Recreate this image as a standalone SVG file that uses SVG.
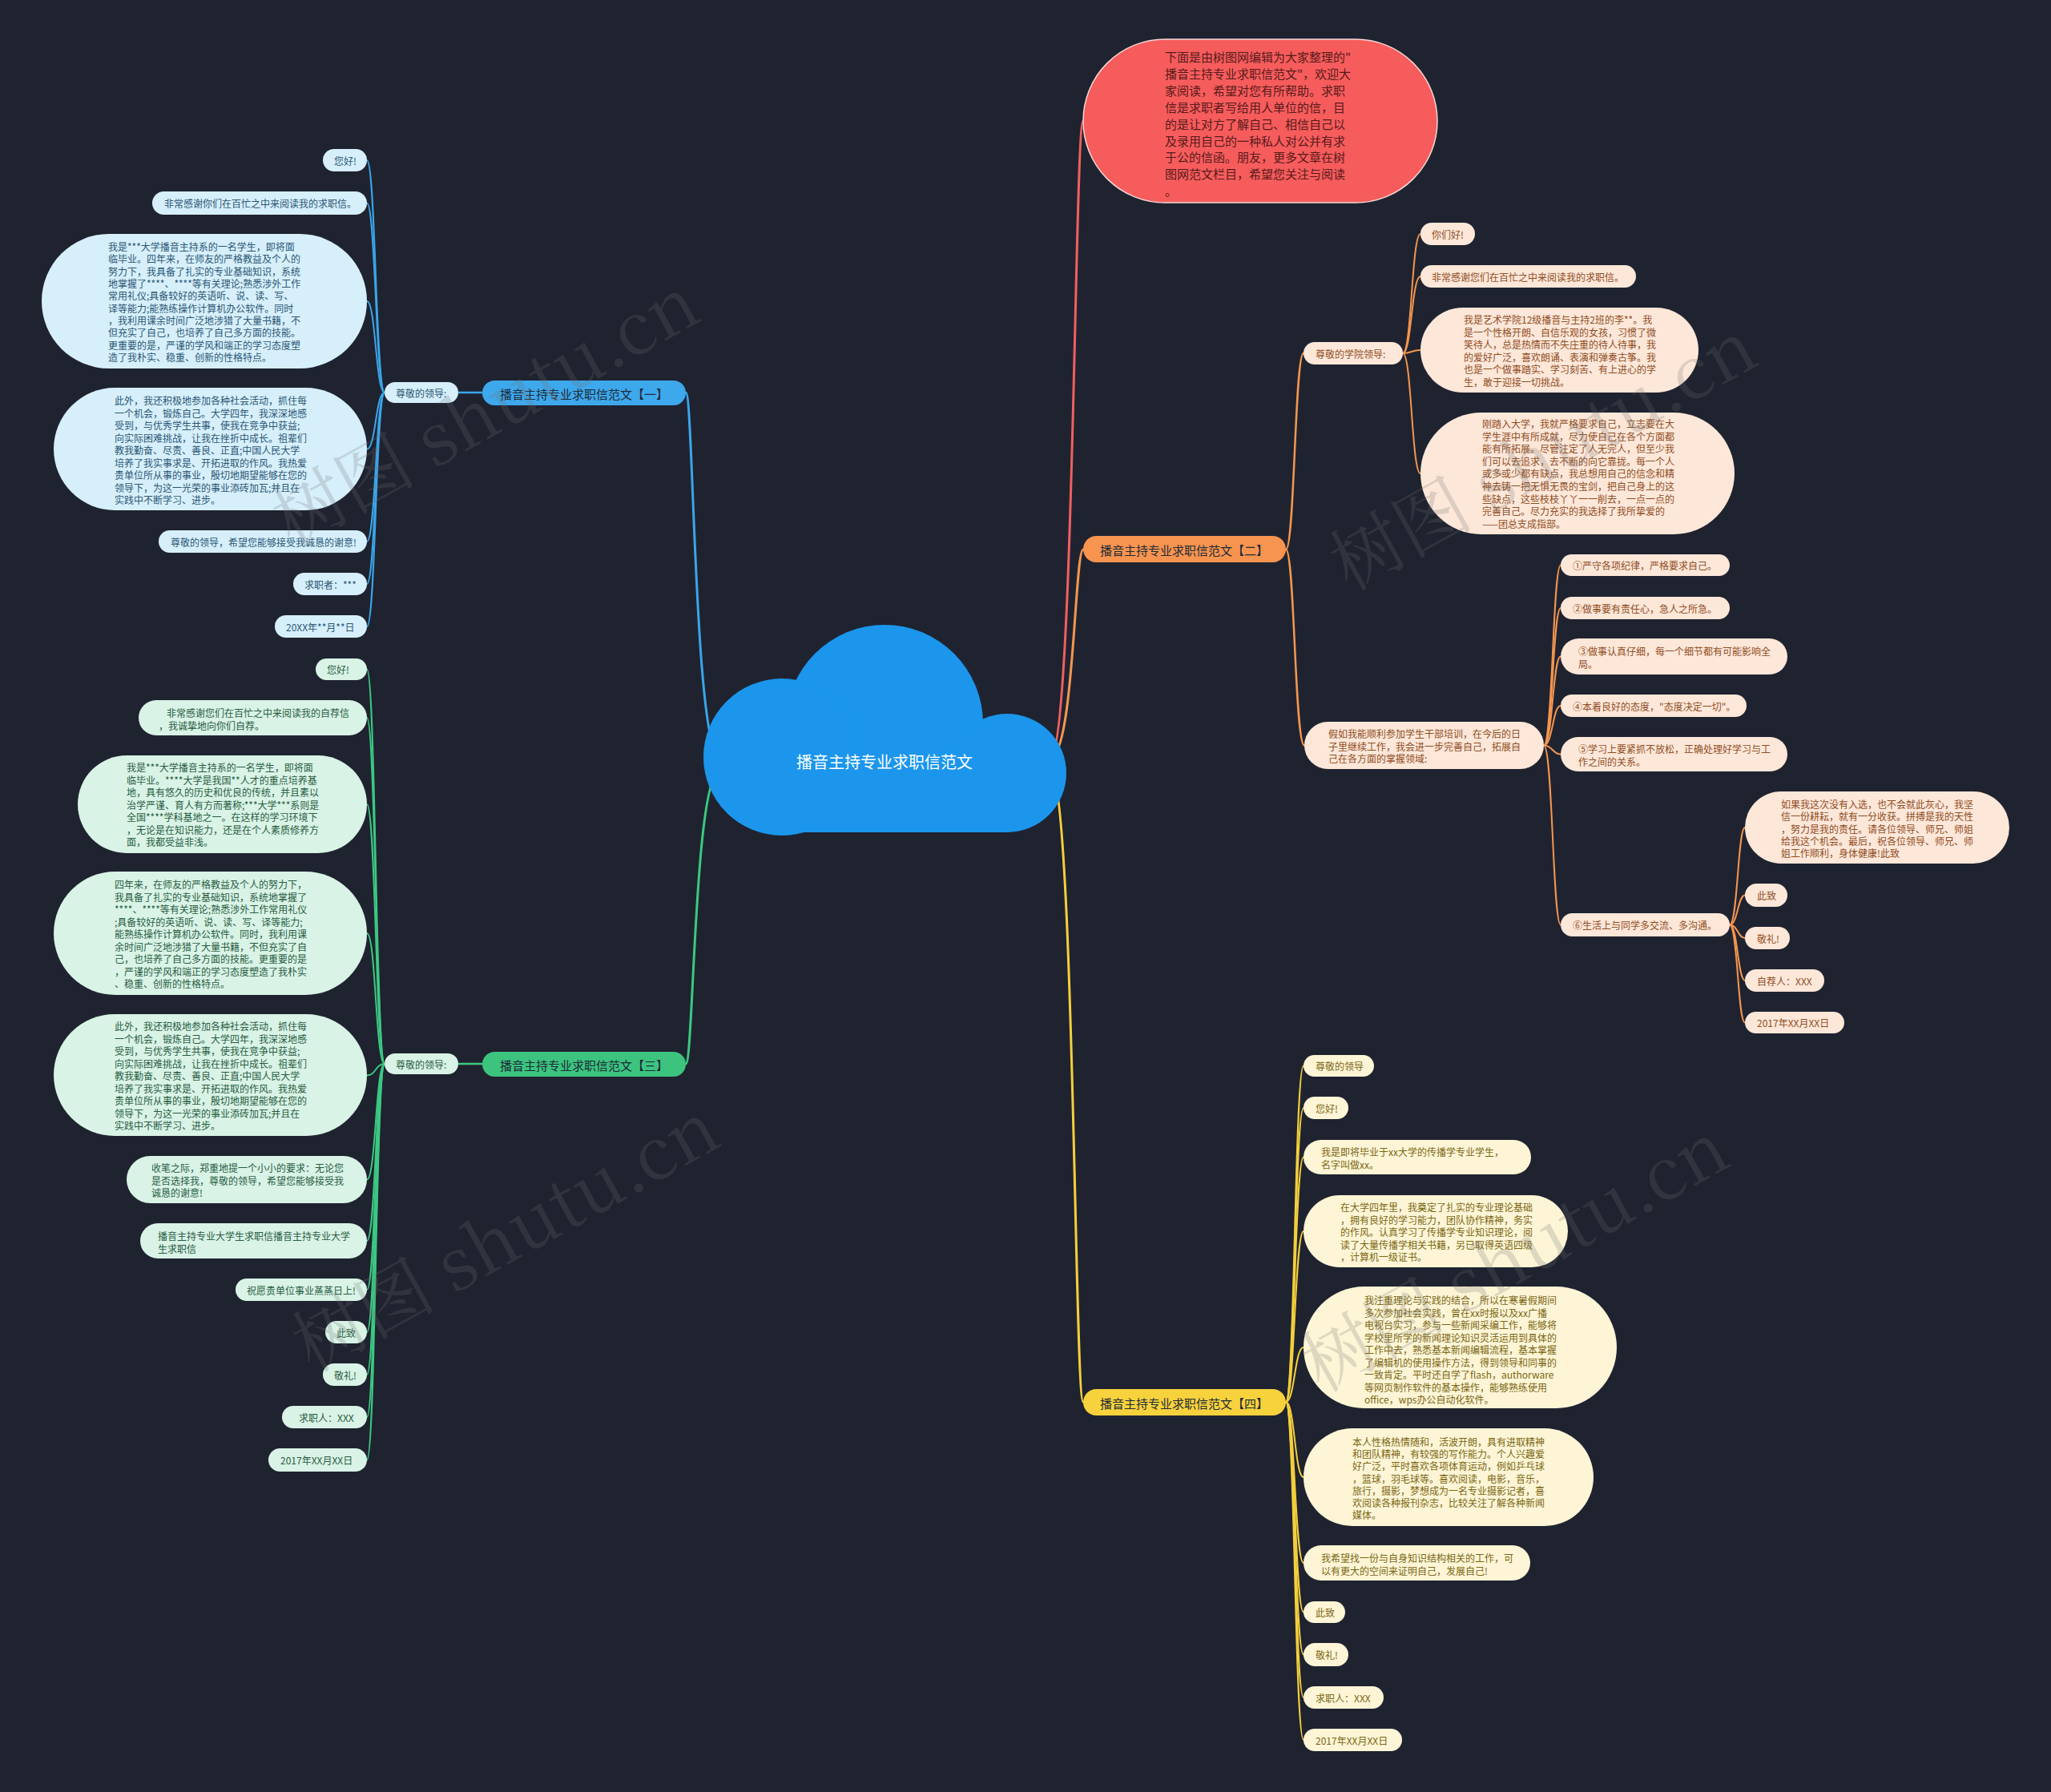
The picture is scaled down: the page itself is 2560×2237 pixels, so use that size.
<svg xmlns="http://www.w3.org/2000/svg" width="2560" height="2237" viewBox="0 0 2560 2237">
<style>
text{font-family:"Noto Sans CJK SC","Liberation Sans",sans-serif;font-size:12px;dominant-baseline:central}
.c{fill:none;stroke-linecap:round}
.cb{stroke:#3aa6ea}.cg{stroke:#3cc882}.co{stroke:#f5964f}.cy{stroke:#f4cf3c}.cr{stroke:#f0605e}
.lb rect{fill:#d6effb}.lb text{fill:#2b5673}
.lg rect{fill:#d9f3e6}.lg text{fill:#285c42}
.lo rect{fill:#fde7d9}.lo text{fill:#8f4d1e}
.ly rect{fill:#fdf5d6}.ly text{fill:#7a6613}
.br text{font-size:15px;fill:#1d2a38;text-anchor:middle}
.wm{font-size:90px;fill:#707070;opacity:0.22;font-family:"Noto Serif CJK SC","Noto Sans CJK SC",serif}
</style>
<rect x="0" y="0" width="2560" height="2237" fill="#1f2330"/>

<g id="connectors">
  <path class="c cb" stroke-width="3" d="M900 947 C866 947 866 490 856 490"/>
  <path class="c cg" stroke-width="3" d="M900 960 C866 960 866 1328 856 1328"/>
  <path class="c cr" stroke-width="3" d="M1310 947 C1341 947 1341 151 1352 151"/>
  <path class="c co" stroke-width="3" d="M1310 947 C1341 947 1341 686 1352 686"/>
  <path class="c cy" stroke-width="3" d="M1310 960 C1341 960 1341 1750 1352 1750"/>

  <path class="c cb" stroke-width="2.5" d="M602 490 L572 490"/>
  <g class="c cb" stroke-width="2">
    <path d="M480 490 C469 490 469 200 458 200"/>
    <path d="M480 490 C469 490 469 253.5 458 253.5"/>
    <path d="M480 490 C469 490 469 376 458 376"/>
    <path d="M480 490 C469 490 469 560.5 458 560.5"/>
    <path d="M480 490 C469 490 469 676 458 676"/>
    <path d="M480 490 C469 490 469 729 458 729"/>
    <path d="M480 490 C469 490 469 782 458 782"/>
  </g>

  <path class="c cg" stroke-width="2.5" d="M602 1328 L572 1328"/>
  <g class="c cg" stroke-width="2">
    <path d="M480 1328 C469 1328 469 835.5 458 835.5"/>
    <path d="M480 1328 C469 1328 469 896 458 896"/>
    <path d="M480 1328 C469 1328 469 1004 458 1004"/>
    <path d="M480 1328 C469 1328 469 1165 458 1165"/>
    <path d="M480 1328 C469 1328 469 1342.5 458 1342.5"/>
    <path d="M480 1328 C469 1328 469 1472.5 458 1472.5"/>
    <path d="M480 1328 C469 1328 469 1549 458 1549"/>
    <path d="M480 1328 C469 1328 469 1610 458 1610"/>
    <path d="M480 1328 C469 1328 469 1663 458 1663"/>
    <path d="M480 1328 C469 1328 469 1716 458 1716"/>
    <path d="M480 1328 C469 1328 469 1769 458 1769"/>
    <path d="M480 1328 C469 1328 469 1822.5 458 1822.5"/>
  </g>

  <g class="c co" stroke-width="2.5">
    <path d="M1605 686 C1616 686 1616 441 1627 441"/>
    <path d="M1605 686 C1616 686 1616 930.5 1628 930.5"/>
  </g>
  <g class="c co" stroke-width="2">
    <path d="M1751 441 C1762 441 1762 292 1773 292"/>
    <path d="M1751 441 C1762 441 1762 345 1773 345"/>
    <path d="M1751 441 C1762 441 1762 437 1773 437"/>
    <path d="M1751 441 C1762 441 1762 591 1773 591"/>
    <path d="M1927 930.5 C1938 930.5 1938 705.5 1948 705.5"/>
    <path d="M1927 930.5 C1938 930.5 1938 759 1948 759"/>
    <path d="M1927 930.5 C1938 930.5 1938 819.5 1948 819.5"/>
    <path d="M1927 930.5 C1938 930.5 1938 881 1948 881"/>
    <path d="M1927 930.5 C1938 930.5 1938 941.5 1948 941.5"/>
    <path d="M1927 930.5 C1938 930.5 1938 1154.5 1948 1154.5"/>
    <path d="M2159 1154.5 C2169 1154.5 2169 1033 2178 1033"/>
    <path d="M2159 1154.5 C2169 1154.5 2169 1117.5 2178 1117.5"/>
    <path d="M2159 1154.5 C2169 1154.5 2169 1171 2178 1171"/>
    <path d="M2159 1154.5 C2169 1154.5 2169 1224 2178 1224"/>
    <path d="M2159 1154.5 C2169 1154.5 2169 1276.5 2178 1276.5"/>
  </g>

  <g class="c cy" stroke-width="2">
    <path d="M1605 1750 C1616 1750 1616 1330.5 1627 1330.5"/>
    <path d="M1605 1750 C1616 1750 1616 1383 1627 1383"/>
    <path d="M1605 1750 C1616 1750 1616 1444.5 1627 1444.5"/>
    <path d="M1605 1750 C1616 1750 1616 1537 1627 1537"/>
    <path d="M1605 1750 C1616 1750 1616 1682 1627 1682"/>
    <path d="M1605 1750 C1616 1750 1616 1844 1627 1844"/>
    <path d="M1605 1750 C1616 1750 1616 1951 1627 1951"/>
    <path d="M1605 1750 C1616 1750 1616 2012.5 1627 2012.5"/>
    <path d="M1605 1750 C1616 1750 1616 2065.5 1627 2065.5"/>
    <path d="M1605 1750 C1616 1750 1616 2119 1627 2119"/>
    <path d="M1605 1750 C1616 1750 1616 2172 1627 2172"/>
  </g>
</g>

<g id="root">
  <g fill="#1b96ec">
    <circle cx="1104" cy="903" r="123"/>
    <circle cx="976" cy="945" r="98"/>
    <circle cx="1257" cy="965" r="74"/>
    <rect x="976" y="940" width="281" height="99"/>
  </g>
  <text x="1104" y="950" style="font-size:20px;fill:#ffffff;text-anchor:middle">播音主持专业求职信范文</text>
</g>

<g id="intro">
  <rect x="1352" y="49" width="442" height="204" rx="102" fill="#f65c5c" stroke="#f6d6d6" stroke-width="1.5"/>
  <text style="font-size:15px;fill:#561a1a">
    <tspan x="1454" y="70">下面是由树图网编辑为大家整理的"</tspan>
    <tspan x="1454" y="90.9">播音主持专业求职信范文"，欢迎大</tspan>
    <tspan x="1454" y="111.8">家阅读，希望对您有所帮助。求职</tspan>
    <tspan x="1454" y="132.7">信是求职者写给用人单位的信，目</tspan>
    <tspan x="1454" y="153.6">的是让对方了解自己、相信自己以</tspan>
    <tspan x="1454" y="174.5">及录用自己的一种私人对公并有求</tspan>
    <tspan x="1454" y="195.4">于公的信函。朋友，更多文章在树</tspan>
    <tspan x="1454" y="216.3">图网范文栏目，希望您关注与阅读</tspan>
    <tspan x="1454" y="237.2">。</tspan>
  </text>
</g>

<!-- Branch 1 -->
<g id="b1" class="br"><rect x="602" y="475" width="254" height="31" rx="15.5" fill="#3ea8ec"/><text x="729" y="491">播音主持专业求职信范文【一】</text></g>
<g id="b1-s" class="lb"><rect x="480" y="477" width="92" height="26" rx="13"/><text x="494" y="490">尊敬的领导:</text></g>
<g id="b1-1" class="lb"><rect x="403" y="186" width="55" height="28" rx="14"/><text x="417" y="200">您好!</text></g>
<g id="b1-2" class="lb"><rect x="190" y="239" width="268" height="29" rx="14.5"/><text x="205" y="253.5">非常感谢你们在百忙之中来阅读我的求职信。</text></g>
<g id="b1-3" class="lb"><rect x="52" y="292" width="406" height="168" rx="84"/><text>
<tspan x="135" y="307">我是***大学播音主持系的一名学生，即将面</tspan>
<tspan x="135" y="322.3">临毕业。四年来，在师友的严格教益及个人的</tspan>
<tspan x="135" y="337.7">努力下，我具备了扎实的专业基础知识，系统</tspan>
<tspan x="135" y="353">地掌握了****、****等有关理论;熟悉涉外工作</tspan>
<tspan x="135" y="368.3">常用礼仪;具备较好的英语听、说、读、写、</tspan>
<tspan x="135" y="383.7">译等能力;能熟练操作计算机办公软件。同时</tspan>
<tspan x="135" y="399">，我利用课余时间广泛地涉猎了大量书籍，不</tspan>
<tspan x="135" y="414.3">但充实了自己，也培养了自己多方面的技能。</tspan>
<tspan x="135" y="429.7">更重要的是，严谨的学风和端正的学习态度塑</tspan>
<tspan x="135" y="445">造了我朴实、稳重、创新的性格特点。</tspan></text></g>
<g id="b1-4" class="lb"><rect x="67" y="484" width="391" height="153" rx="76.5"/><text>
<tspan x="143" y="499">此外，我还积极地参加各种社会活动，抓住每</tspan>
<tspan x="143" y="514.5">一个机会，锻炼自己。大学四年，我深深地感</tspan>
<tspan x="143" y="530">受到，与优秀学生共事，使我在竞争中获益;</tspan>
<tspan x="143" y="545.5">向实际困难挑战，让我在挫折中成长。祖辈们</tspan>
<tspan x="143" y="561">教我勤奋、尽责、善良、正直;中国人民大学</tspan>
<tspan x="143" y="576.5">培养了我实事求是、开拓进取的作风。我热爱</tspan>
<tspan x="143" y="592">贵单位所从事的事业，殷切地期望能够在您的</tspan>
<tspan x="143" y="607.5">领导下，为这一光荣的事业添砖加瓦;并且在</tspan>
<tspan x="143" y="623">实践中不断学习、进步。</tspan></text></g>
<g id="b1-5" class="lb"><rect x="198" y="662" width="260" height="28" rx="14"/><text x="213" y="676">尊敬的领导，希望您能够接受我诚恳的谢意!</text></g>
<g id="b1-6" class="lb"><rect x="366" y="715" width="92" height="28" rx="14"/><text x="380" y="729">求职者：***</text></g>
<g id="b1-7" class="lb"><rect x="343" y="768" width="115" height="28" rx="14"/><text x="357" y="782">20XX年**月**日</text></g>

<!-- Branch 3 -->
<g id="b3" class="br"><rect x="602" y="1313" width="254" height="31" rx="15.5" fill="#3cc47e"/><text x="729" y="1329">播音主持专业求职信范文【三】</text></g>
<g id="b3-s" class="lg"><rect x="480" y="1315" width="92" height="26" rx="13"/><text x="494" y="1328">尊敬的领导:</text></g>
<g id="b3-1" class="lg"><rect x="394" y="822" width="64" height="27" rx="13.5"/><text x="408" y="835.5">您好!</text></g>
<g id="b3-2" class="lg"><rect x="173" y="874" width="285" height="44" rx="22"/><text>
<tspan x="208" y="889">非常感谢您们在百忙之中来阅读我的自荐信</tspan>
<tspan x="198" y="904.5">，我诚挚地向你们自荐。</tspan></text></g>
<g id="b3-3" class="lg"><rect x="97" y="943" width="361" height="122" rx="61"/><text>
<tspan x="158" y="957">我是***大学播音主持系的一名学生，即将面</tspan>
<tspan x="158" y="972.5">临毕业。****大学是我国**人才的重点培养基</tspan>
<tspan x="158" y="988">地，具有悠久的历史和优良的传统，并且素以</tspan>
<tspan x="158" y="1003.5">治学严谨、育人有方而著称;***大学***系则是</tspan>
<tspan x="158" y="1019">全国****学科基地之一。在这样的学习环境下</tspan>
<tspan x="158" y="1034.5">，无论是在知识能力，还是在个人素质修养方</tspan>
<tspan x="158" y="1050">面，我都受益非浅。</tspan></text></g>
<g id="b3-4" class="lg"><rect x="67" y="1088" width="391" height="154" rx="77"/><text>
<tspan x="143" y="1103">四年来，在师友的严格教益及个人的努力下，</tspan>
<tspan x="143" y="1118.5">我具备了扎实的专业基础知识，系统地掌握了</tspan>
<tspan x="143" y="1134">****、****等有关理论;熟悉涉外工作常用礼仪</tspan>
<tspan x="143" y="1149.5">;具备较好的英语听、说、读、写、译等能力;</tspan>
<tspan x="143" y="1165">能熟练操作计算机办公软件。同时，我利用课</tspan>
<tspan x="143" y="1180.5">余时间广泛地涉猎了大量书籍，不但充实了自</tspan>
<tspan x="143" y="1196">己，也培养了自己多方面的技能。更重要的是</tspan>
<tspan x="143" y="1211.5">，严谨的学风和端正的学习态度塑造了我朴实</tspan>
<tspan x="143" y="1227">、稳重、创新的性格特点。</tspan></text></g>
<g id="b3-5" class="lg"><rect x="67" y="1266" width="391" height="152" rx="76"/><text>
<tspan x="143" y="1280">此外，我还积极地参加各种社会活动，抓住每</tspan>
<tspan x="143" y="1295.5">一个机会，锻炼自己。大学四年，我深深地感</tspan>
<tspan x="143" y="1311">受到，与优秀学生共事，使我在竞争中获益;</tspan>
<tspan x="143" y="1326.5">向实际困难挑战，让我在挫折中成长。祖辈们</tspan>
<tspan x="143" y="1342">教我勤奋、尽责、善良、正直;中国人民大学</tspan>
<tspan x="143" y="1357.5">培养了我实事求是、开拓进取的作风。我热爱</tspan>
<tspan x="143" y="1373">贵单位所从事的事业，殷切地期望能够在您的</tspan>
<tspan x="143" y="1388.5">领导下，为这一光荣的事业添砖加瓦;并且在</tspan>
<tspan x="143" y="1404">实践中不断学习、进步。</tspan></text></g>
<g id="b3-6" class="lg"><rect x="158" y="1443" width="300" height="59" rx="29.5"/><text>
<tspan x="189" y="1457">收笔之际，郑重地提一个小小的要求：无论您</tspan>
<tspan x="189" y="1472.5">是否选择我，尊敬的领导，希望您能够接受我</tspan>
<tspan x="189" y="1488">诚恳的谢意!</tspan></text></g>
<g id="b3-7" class="lg"><rect x="175" y="1527" width="283" height="44" rx="22"/><text>
<tspan x="197" y="1542">播音主持专业大学生求职信播音主持专业大学</tspan>
<tspan x="197" y="1557.5">生求职信</tspan></text></g>
<g id="b3-8" class="lg"><rect x="294" y="1596" width="164" height="28" rx="14"/><text x="308" y="1610">祝愿贵单位事业蒸蒸日上!</text></g>
<g id="b3-9" class="lg"><rect x="406" y="1649" width="52" height="28" rx="14"/><text x="420" y="1663">此致</text></g>
<g id="b3-10" class="lg"><rect x="403" y="1702" width="55" height="28" rx="14"/><text x="417" y="1716">敬礼!</text></g>
<g id="b3-11" class="lg"><rect x="352" y="1755" width="106" height="28" rx="14"/><text x="373" y="1769">求职人：XXX</text></g>
<g id="b3-12" class="lg"><rect x="335" y="1808" width="123" height="29" rx="14.5"/><text x="350" y="1822.5">2017年XX月XX日</text></g>

<!-- Branch 2 -->
<g id="b2" class="br"><rect x="1352" y="669" width="253" height="33" rx="16.5" fill="#f7944f"/><text x="1478" y="686">播音主持专业求职信范文【二】</text></g>
<g id="b2-s1" class="lo"><rect x="1627" y="427" width="124" height="28" rx="14"/><text x="1642" y="441">尊敬的学院领导:</text></g>
<g id="b2-s2" class="lo"><rect x="1628" y="901" width="299" height="59" rx="29.5"/><text>
<tspan x="1658" y="915">假如我能顺利参加学生干部培训，在今后的日</tspan>
<tspan x="1658" y="930.5">子里继续工作，我会进一步完善自己，拓展自</tspan>
<tspan x="1658" y="946">己在各方面的掌握领域:</tspan></text></g>
<g id="b2-1" class="lo"><rect x="1773" y="278" width="68" height="28" rx="14"/><text x="1787" y="292">你们好!</text></g>
<g id="b2-2" class="lo"><rect x="1773" y="331" width="269" height="28" rx="14"/><text x="1787" y="345">非常感谢您们在百忙之中来阅读我的求职信。</text></g>
<g id="b2-3" class="lo"><rect x="1773" y="384" width="347" height="106" rx="53"/><text>
<tspan x="1827" y="398">我是艺术学院12级播音与主持2班的李**。我</tspan>
<tspan x="1827" y="413.6">是一个性格开朗、自信乐观的女孩，习惯了微</tspan>
<tspan x="1827" y="429.2">笑待人，总是热情而不失庄重的待人待事，我</tspan>
<tspan x="1827" y="444.8">的爱好广泛，喜欢朗诵、表演和弹奏古筝。我</tspan>
<tspan x="1827" y="460.4">也是一个做事踏实、学习刻苦、有上进心的学</tspan>
<tspan x="1827" y="476">生，敢于迎接一切挑战。</tspan></text></g>
<g id="b2-4" class="lo"><rect x="1773" y="515" width="392" height="152" rx="76"/><text>
<tspan x="1850" y="528">刚踏入大学，我就严格要求自己，立志要在大</tspan>
<tspan x="1850" y="543.6">学生涯中有所成就，尽力使自己在各个方面都</tspan>
<tspan x="1850" y="559.2">能有所拓展。尽管注定了人无完人，但至少我</tspan>
<tspan x="1850" y="574.8">们可以去追求，去不断的向它靠拢。每一个人</tspan>
<tspan x="1850" y="590.4">或多或少都有缺点，我总想用自己的信念和精</tspan>
<tspan x="1850" y="606">神去铸一把无惧无畏的宝剑，把自己身上的这</tspan>
<tspan x="1850" y="621.6">些缺点，这些枝枝丫丫一一削去，一点一点的</tspan>
<tspan x="1850" y="637.2">完善自己。尽力充实的我选择了我所挚爱的</tspan>
<tspan x="1850" y="652.8">——团总支成指部。</tspan></text></g>
<g id="b2-5" class="lo"><rect x="1948" y="692" width="211" height="27" rx="13.5"/><text x="1963" y="705.5">①严守各项纪律，严格要求自己。</text></g>
<g id="b2-6" class="lo"><rect x="1948" y="745" width="211" height="28" rx="14"/><text x="1963" y="759">②做事要有责任心，急人之所急。</text></g>
<g id="b2-7" class="lo"><rect x="1948" y="797" width="283" height="45" rx="22.5"/><text>
<tspan x="1970" y="812">③做事认真仔细，每一个细节都有可能影响全</tspan>
<tspan x="1970" y="827.5">局。</tspan></text></g>
<g id="b2-8" class="lo"><rect x="1948" y="867" width="232" height="28" rx="14"/><text x="1963" y="881">④本着良好的态度，"态度决定一切"。</text></g>
<g id="b2-9" class="lo"><rect x="1948" y="920" width="283" height="43" rx="21.5"/><text>
<tspan x="1970" y="934">⑤学习上要紧抓不放松，正确处理好学习与工</tspan>
<tspan x="1970" y="949.5">作之间的关系。</tspan></text></g>
<g id="b2-10" class="lo"><rect x="1948" y="1140" width="211" height="29" rx="14.5"/><text x="1963" y="1154.5">⑥生活上与同学多交流、多沟通。</text></g>
<g id="b2-11" class="lo"><rect x="2178" y="988" width="330" height="90" rx="45"/><text>
<tspan x="2223" y="1003">如果我这次没有入选，也不会就此灰心，我坚</tspan>
<tspan x="2223" y="1018.3">信一份耕耘，就有一分收获。拼搏是我的天性</tspan>
<tspan x="2223" y="1033.6">，努力是我的责任。请各位领导、师兄、师姐</tspan>
<tspan x="2223" y="1048.9">给我这个机会。最后，祝各位领导、师兄、师</tspan>
<tspan x="2223" y="1064.2">姐工作顺利，身体健康!此致</tspan></text></g>
<g id="b2-12" class="lo"><rect x="2178" y="1103" width="53" height="29" rx="14.5"/><text x="2193" y="1117.5">此致</text></g>
<g id="b2-13" class="lo"><rect x="2178" y="1157" width="56" height="28" rx="14"/><text x="2193" y="1171">敬礼!</text></g>
<g id="b2-14" class="lo"><rect x="2178" y="1210" width="99" height="28" rx="14"/><text x="2193" y="1224">自荐人：XXX</text></g>
<g id="b2-15" class="lo"><rect x="2178" y="1263" width="124" height="27" rx="13.5"/><text x="2193" y="1276.5">2017年XX月XX日</text></g>

<!-- Branch 4 -->
<g id="b4" class="br"><rect x="1352" y="1734" width="253" height="33" rx="16.5" fill="#f7d23c"/><text x="1478" y="1751">播音主持专业求职信范文【四】</text></g>
<g id="b4-1" class="ly"><rect x="1627" y="1317" width="88" height="27" rx="13.5"/><text x="1642" y="1330.5">尊敬的领导</text></g>
<g id="b4-2" class="ly"><rect x="1627" y="1369" width="56" height="28" rx="14"/><text x="1642" y="1383">您好!</text></g>
<g id="b4-3" class="ly"><rect x="1627" y="1423" width="284" height="43" rx="21.5"/><text>
<tspan x="1649" y="1437">我是即将毕业于xx大学的传播学专业学生，</tspan>
<tspan x="1649" y="1452.5">名字叫做xx。</tspan></text></g>
<g id="b4-4" class="ly"><rect x="1627" y="1492" width="330" height="90" rx="45"/><text>
<tspan x="1673" y="1506">在大学四年里，我奠定了扎实的专业理论基础</tspan>
<tspan x="1673" y="1521.5">，拥有良好的学习能力，团队协作精神，务实</tspan>
<tspan x="1673" y="1537">的作风。认真学习了传播学专业知识理论，阅</tspan>
<tspan x="1673" y="1552.5">读了大量传播学相关书籍，另已取得英语四级</tspan>
<tspan x="1673" y="1568">，计算机一级证书。</tspan></text></g>
<g id="b4-5" class="ly"><rect x="1627" y="1606" width="391" height="152" rx="76"/><text>
<tspan x="1703" y="1622">我注重理论与实践的结合，所以在寒暑假期间</tspan>
<tspan x="1703" y="1637.5">多次参加社会实践，曾在xx时报以及xx广播</tspan>
<tspan x="1703" y="1653">电视台实习，参与一些新闻采编工作，能够将</tspan>
<tspan x="1703" y="1668.5">学校里所学的新闻理论知识灵活运用到具体的</tspan>
<tspan x="1703" y="1684">工作中去，熟悉基本新闻编辑流程，基本掌握</tspan>
<tspan x="1703" y="1699.5">了编辑机的使用操作方法，得到领导和同事的</tspan>
<tspan x="1703" y="1715">一致肯定。平时还自学了flash，authorware</tspan>
<tspan x="1703" y="1730.5">等网页制作软件的基本操作，能够熟练使用</tspan>
<tspan x="1703" y="1746">office，wps办公自动化软件。</tspan></text></g>
<g id="b4-6" class="ly"><rect x="1627" y="1783" width="362" height="122" rx="61"/><text>
<tspan x="1688" y="1799">本人性格热情随和，活波开朗，具有进取精神</tspan>
<tspan x="1688" y="1814.2">和团队精神，有较强的写作能力。个人兴趣爱</tspan>
<tspan x="1688" y="1829.4">好广泛，平时喜欢各项体育运动，例如乒乓球</tspan>
<tspan x="1688" y="1844.6">，篮球，羽毛球等。喜欢阅读，电影，音乐，</tspan>
<tspan x="1688" y="1859.8">旅行，摄影，梦想成为一名专业摄影记者，喜</tspan>
<tspan x="1688" y="1875">欢阅读各种报刊杂志，比较关注了解各种新闻</tspan>
<tspan x="1688" y="1890.2">媒体。</tspan></text></g>
<g id="b4-7" class="ly"><rect x="1627" y="1929" width="283" height="44" rx="22"/><text>
<tspan x="1649" y="1944">我希望找一份与自身知识结构相关的工作，可</tspan>
<tspan x="1649" y="1959.5">以有更大的空间来证明自己，发展自己!</tspan></text></g>
<g id="b4-8" class="ly"><rect x="1627" y="1999" width="52" height="27" rx="13.5"/><text x="1642" y="2012.5">此致</text></g>
<g id="b4-9" class="ly"><rect x="1627" y="2051" width="56" height="29" rx="14.5"/><text x="1642" y="2065.5">敬礼!</text></g>
<g id="b4-10" class="ly"><rect x="1627" y="2105" width="100" height="28" rx="14"/><text x="1642" y="2119">求职人：XXX</text></g>
<g id="b4-11" class="ly"><rect x="1627" y="2158" width="123" height="28" rx="14"/><text x="1642" y="2172">2017年XX月XX日</text></g>

<g id="watermarks">
  <text class="wm" transform="translate(345 650) rotate(-29)">树图 shutu.cn</text>
  <text class="wm" transform="translate(370 1680) rotate(-29)">树图 shutu.cn</text>
  <text class="wm" transform="translate(1665 705) rotate(-29)">树图 shutu.cn</text>
  <text class="wm" transform="translate(1630 1705) rotate(-29)">树图 shutu.cn</text>
</g>
</svg>
